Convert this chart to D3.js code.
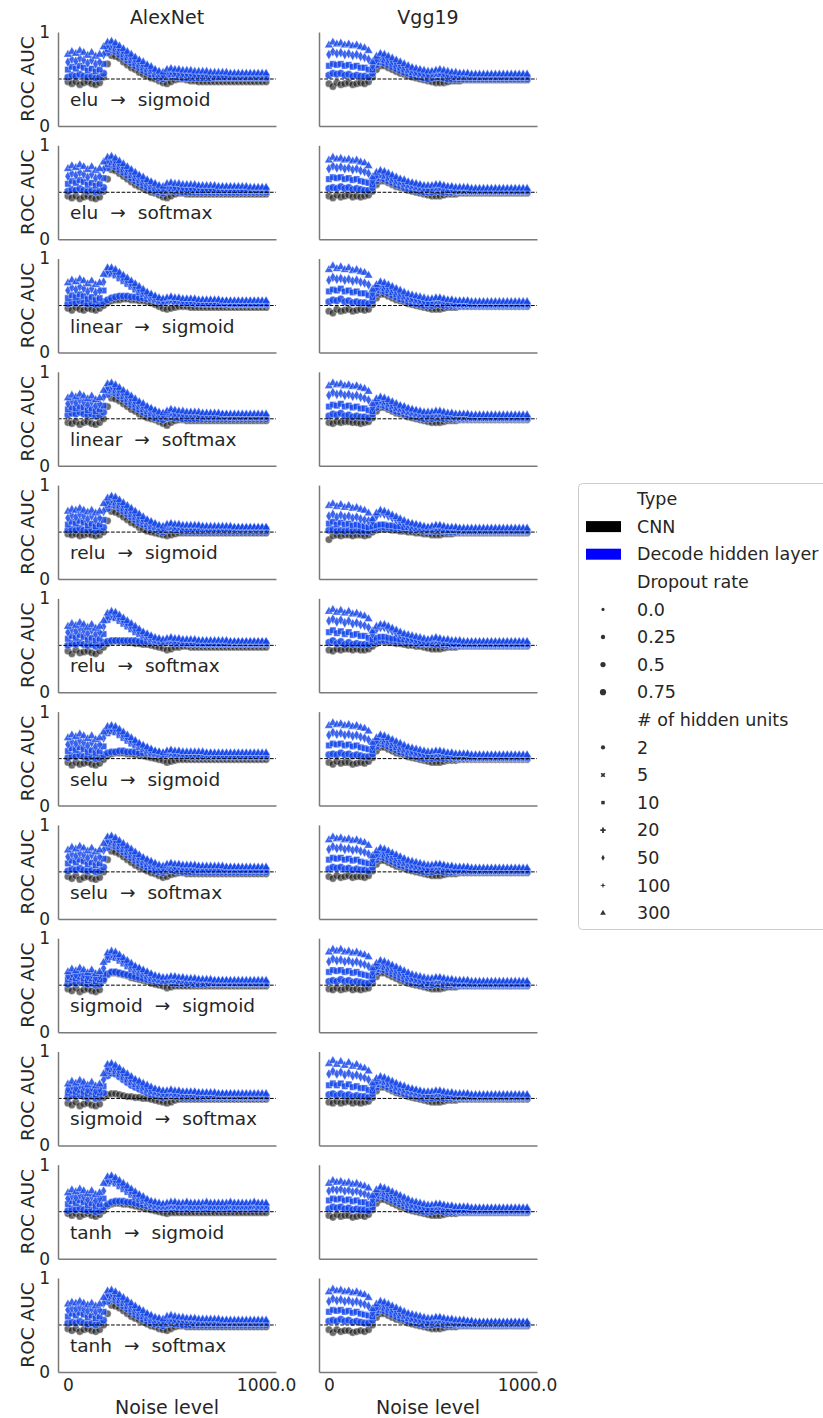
<!DOCTYPE html>
<html>
<head>
<meta charset="utf-8">
<script src="https://cdn.jsdelivr.net/npm/d3@7"></script>
<style>
  html, body { margin: 0; padding: 0; background: #fff; }
  svg { display: block; }
  text { font-family: "DejaVu Sans", sans-serif; fill: #262626; }
</style>
</head>
<body>
<svg id="chart" width="823" height="1418"></svg>
<script>
// ---- categories and ticks ----
const modelNames = ["AlexNet", "Vgg19"];
const hiddenActivations = ["elu", "elu", "linear", "linear", "relu", "relu", "selu", "selu", "sigmoid", "sigmoid", "tanh", "tanh"];
const outputActivations = ["sigmoid", "softmax", "sigmoid", "softmax", "sigmoid", "softmax", "sigmoid", "softmax", "sigmoid", "softmax", "sigmoid", "softmax"];
const noiseLevels = [0,20,40,60,80,100,120,140,160,180,200,220,240,260,280,300,320,340,360,380,400,420,440,460,480,500,520,540,560,580,600,620,640,660,680,700,720,740,760,780,800,820,840,860,880,900,920,940,960,980,1000];
const xTickValues = [0, 1000];
const xTickLabels = ["0", "1000.0"];
const yTickValues = [0, 1];
const yTickLabels = ["0", "1"];
const typeLabels = ["CNN", "Decode hidden layer"];
const dropoutLabels = ["0.0", "0.25", "0.5", "0.75"];
const hiddenUnitLabels = ["2", "5", "10", "20", "50", "100", "300"];

// ---- ROC AUC (in percent) per noise level ----
// cnn: CNN readout; u2/u10/u50/u300: decoder with that many hidden units

// AlexNet
const alex_elu_sig_cnn  = [47,45,47,44,46,47,45,44,46, 52,66,75,74,72,68,65,62,60,57,55,53,51,50,48,46, 45,47,49,50,50,49,48,48, 47,47,47,47,47, 47,47,47,47,47, 47,47,47,47,47, 47,47,47];
const alex_elu_sig_u2   = [52,54,53,55,53,52,53,51,52, 56,78,81,79,76,73,70,67,64,62,59,57,55,53,51,50, 52,53,52,52, 51,51,51,51,51, 51,51,51,51,51, 51,51,51,51,51, 51,51,51,51,51, 51,51];
const alex_elu_sig_u10  = [60,63,61,64,62,59,61,58,60, 66,82,84,82,79,76,73,70,67,65,62,60,58,55,53,52, 54,55,55,54,54,54, 53,53,53,53,53,53, 52,52,52,52,52, 52,52,52,52,52, 52,52,52,52];
const alex_elu_sig_u50  = [68,71,69,72,70,67,70,66,68, 76,86,87,85,82,79,76,73,70,68,65,63,60,58,56,54, 57,58,57,57, 56,56,56, 55,55,55,55,55, 54,54,54,54,54, 54,54,54,54,54, 54,54,54,54];
const alex_elu_sig_u300 = [76,79,77,80,78,75,78,74,76, 84,89,90,88,85,82,79,76,73,70,68,65,63,60,58,57, 60,61,60,60, 59,59,59, 58,58,58,58, 57,57,57,57,57, 56,56,56,56,56, 56,56,56,56,56];

const alex_elu_soft_cnn  = [46,44,46,43,45,46,44,43,45, 51,64,74,73,70,67,64,61,58,56,54,52,50,49,47,45, 44,46,48,49,49, 48,48,48,48,48, 48,48,48,48,48, 48,48,48,48,48, 48,48,48,48,48, 48];
const alex_elu_soft_u2   = [51,53,52,54,52,51,52,50,51, 55,76,79,77,74,71,68,65,62,60,57,55,53,51,50,49, 51,52,51,51, 50,50,50,50,50, 50,50,50,50,50, 50,50,50,50,50, 50,50,50,50,50, 50,50];
const alex_elu_soft_u10  = [59,62,60,63,61,58,60,57,59, 65,80,82,80,77,74,71,68,65,63,60,58,56,54,52,51, 53,54,54,53,53,53,53, 52,52,52,52,52, 52,52,52,52,52, 52,52,52,52,52, 52,52,52,52];
const alex_elu_soft_u50  = [67,70,68,71,69,66,69,65,67, 74,84,85,83,80,77,74,71,68,66,63,61,59,57,55,54, 56,57,56,56, 55,55,55,55,55, 54,54,54,54,54, 54,54,54,54,54, 53,53,53,53,53, 53,53];
const alex_elu_soft_u300 = [75,78,76,79,77,74,77,73,75, 82,87,88,86,83,80,77,74,71,68,66,63,61,59,57,56, 59,60,59,59, 58,58,58,58, 57,57,57,57,57, 56,56,56,56,56, 56,56,56, 55,55,55,55,55];

const alex_lin_sig_cnn  = [47,45,48,46,45,47,46,45,47, 50,53,55,56,56,57,57,56,56,55,55,54,53,51,49,47, 46,47,48,49,49,49, 48,48,48,48,48, 48,48,48,48,48, 48,48,48,48,48, 48,48,48,48,48];
const alex_lin_sig_u2   = [52,54,53,55,53,52,53,51,52, 54,56,58,59,60,60,60,59,59,58,58,57,57,56,56,55, 55,55,54,54, 53,53,53, 52,52,52,52,52, 52,52,52, 51,51,51,51,51, 51,51,51,51,51, 51];
const alex_lin_sig_u10  = [58,61,59,62,60,57,59,56,58, 66,83,84,82,79,76,73,70,67,64,62,60,58,56,54,53, 54,55,54,54, 53,53,53,53,53, 52,52,52,52,52, 52,52,52,52,52, 52,52,52,52,52, 52,52];
const alex_lin_sig_u50  = [66,69,67,70,68,65,68,64,66, 75,87,87,85,82,79,76,73,70,67,64,62,60,58,56,55, 56,57,56,56, 55,55,55,55, 54,54,54,54,54, 54,54,54, 53,53,53,53,53, 53,53,53,53,53];
const alex_lin_sig_u300 = [74,77,75,78,76,73,76,72,74, 83,90,90,88,85,82,79,76,73,70,67,64,62,60,58,57, 58,59,58,58, 57,57,57,57, 56,56,56,56,56,56, 55,55,55,55,55, 55,55,55,55,55, 55,55];

const alex_lin_soft_cnn  = [46,45,47,44,46,47,45,44,46, 50,63,72,71,69,66,63,60,58,55,53,51,50,49,47,45, 43,46,48,49,49, 48,48,48,48,48, 48,48,48,48,48, 48,48,48,48,48, 48,48,48,48,48, 48];
const alex_lin_soft_u2   = [54,56,55,57,55,54,55,53,54, 57,76,79,77,74,71,68,65,62,60,57,55,53,51,50,49, 51,52,51,51, 50,50,50,50,50, 50,50,50,50,50, 50,50,50,50,50, 50,50,50,50,50, 50,50];
const alex_lin_soft_u10  = [60,62,61,63,62,59,61,58,60, 64,80,82,80,77,74,71,68,65,63,60,58,56,54,53,52, 54,55,54,54, 53,53,53,53,53, 52,52,52,52,52, 52,52,52,52,52, 52,52,52,52,52, 52,52];
const alex_lin_soft_u50  = [66,69,67,70,68,65,68,64,66, 73,84,85,83,80,77,74,71,68,66,63,61,59,57,55,54, 56,57,56,56, 55,55,55,55, 54,54,54,54,54, 54,54,54, 53,53,53,53,53, 53,53,53,53,53];
const alex_lin_soft_u300 = [72,75,73,76,74,71,74,70,72, 80,87,88,86,83,80,77,74,71,68,66,63,61,59,57,56, 58,60,59,58,58, 57,57,57,57, 56,56,56,56,56, 55,55,55,55,55, 55,55,55,55,55, 55,55];

const alex_relu_sig_cnn  = [48,47,48,46,47,48,47,46,47, 50,62,72,71,69,66,63,60,58,55,53,51,50,49,48,47, 46,47,48, 49,49,49,49,49, 49,49,49,49,49, 49,49,49,49,49, 49,49,49,49,49, 49,49,49];
const alex_relu_sig_u2   = [52,53,52,54,52,52,53,51,52, 55,75,79,78,75,72,69,66,63,60,58,56,54,53,51,50, 52,53,52,52, 51,51,51,51,51, 51,51,51,51,51, 51,51,51,51,51, 51,51,51,51,51, 51,51];
const alex_relu_sig_u10  = [58,61,59,62,60,57,59,56,58, 63,79,82,81,78,75,72,69,66,63,61,58,56,55,53,52, 54,55,54,54, 53,53,53,53,53, 53,53,53,53,53, 53,53,53,53,53, 53,53,53,53,53, 53,53];
const alex_relu_sig_u50  = [65,68,66,69,67,64,67,63,65, 72,83,85,84,81,78,75,72,69,66,63,61,59,57,55,54, 56,57,56,56, 55,55,55,55,55,55, 54,54,54,54,54, 54,54,54,54,54, 54,54,54,54,54, 54];
const alex_relu_sig_u300 = [72,74,73,75,73,71,73,70,72, 80,86,88,87,84,81,78,75,72,69,66,63,61,59,57,56, 58,59,58,58, 57,57,57,57,57, 56,56,56,56,56, 56,56,56, 55,55,55,55,55, 55,55,55,55];

const alex_relu_soft_cnn  = [44,41,45,42,43,44,42,41,44, 48,52,54,55,54,54,53,53,52,52,51,51,50,49,48,47, 45,46,48,48,49,49, 48,48,48,48,48, 48,48,48,48,48, 48,48,48,48,48, 48,48,48,48,48];
const alex_relu_soft_u2   = [50,52,51,53,51,50,51,49,50, 53,54,55,55,55,55,55,55,55,54,54,54,54,53,53,53, 53,53, 52,52,52,52, 51,51,51,51,51, 51,51,51,51,51, 51,51,51,51,51, 51,51,51,51,51];
const alex_relu_soft_u10  = [57,60,58,61,59,56,58,55,57, 62,77,80,79,76,73,70,67,64,62,60,58,56,55,54,53, 54,54,53,53,53, 52,52,52,52,52, 52,52,52,52,52, 52,52,52,52,52, 52,52,52,52,52, 52];
const alex_relu_soft_u50  = [64,67,65,68,66,63,66,62,64, 70,81,83,82,79,76,73,70,67,64,62,60,58,56,55,54, 55,56,55,55, 54,54,54,54,54, 53,53,53,53,53, 53,53,53,53,53, 53,53,53,53,53, 53,53];
const alex_relu_soft_u300 = [70,73,71,74,72,69,72,68,70, 76,84,86,85,82,79,76,73,70,67,64,62,60,58,57,56, 57,58,57,57, 56,56,56,56, 55,55,55,55,55, 55,55,55, 54,54,54,54,54, 54,54,54,54,54];

const alex_selu_sig_cnn  = [46,43,46,44,45,46,44,43,45, 49,53,55,56,56,56,55,55,54,54,53,52,51,50,49,48, 46,47,48, 49,49,49,49,49, 49,49,49,49,49, 49,49,49,49,49, 49,49,49,49,49, 49,49,49];
const alex_selu_sig_u2   = [51,53,52,54,52,51,52,50,51, 54,56,57,57,58,58,57,57,57,56,56,56,55,55,54,54, 54,54, 53,53,53,53, 52,52,52,52,52, 52,52,52,52,52, 52,52,52,52,52, 52,52,52,52,52];
const alex_selu_sig_u10  = [58,61,59,62,60,57,59,56,58, 63,77,79,78,75,72,69,66,64,62,60,58,56,55,54,53, 54,55,54,54,54, 53,53,53,53,53, 53,53,53,53,53, 53,53,53,53,53, 53,53,53,53,53, 53];
const alex_selu_sig_u50  = [65,68,66,69,67,64,67,63,65, 72,81,82,81,78,75,72,69,67,64,62,60,58,57,56,55, 56,57,56,56, 55,55,55,55,55, 55,55,55, 54,54,54,54,54, 54,54,54,54,54, 54,54,54,54];
const alex_selu_sig_u300 = [72,75,73,76,74,71,74,70,72, 78,84,85,84,81,78,75,72,69,66,64,62,60,58,57,56, 58,59,58,58, 57,57,57,57,57,57, 56,56,56,56,56, 56,56,56,56,56, 56,56,56,56,56, 56];

const alex_selu_soft_cnn  = [45,43,46,42,44,45,43,42,44, 50,63,72,71,69,66,63,60,57,55,53,51,49,48,46,44, 45,47,48,49,49, 48,48,48,48,48, 48,48,48,48,48, 48,48,48,48,48, 48,48,48,48,48, 48];
const alex_selu_soft_u2   = [51,53,52,54,52,51,52,50,51, 55,76,79,77,74,71,68,65,62,59,57,55,53,51,50,49, 51,52,51,51, 50,50,50,50,50, 50,50,50,50,50, 50,50,50,50,50, 50,50,50,50,50, 50,50];
const alex_selu_soft_u10  = [59,62,60,63,61,58,60,57,59, 64,80,82,80,77,74,71,68,65,62,60,58,56,54,52,51, 53,54,54,53,53,53,53, 52,52,52,52,52, 52,52,52,52,52, 52,52,52,52,52, 52,52,52,52];
const alex_selu_soft_u50  = [66,69,67,70,68,65,68,64,66, 73,84,85,83,80,77,74,71,68,65,63,61,59,57,55,54, 56,57,56,56, 55,55,55,55,55, 54,54,54,54,54, 54,54,54,54,54, 53,53,53,53,53, 53,53];
const alex_selu_soft_u300 = [73,76,74,77,75,72,75,71,73, 80,87,88,86,83,80,77,74,71,68,65,63,61,59,57,56, 58,59,58,58, 57,57,57,57, 56,56,56,56,56, 56,56, 55,55,55,55,55, 55,55,55,55,55, 55];

const alex_sigm_sig_cnn  = [46,44,47,43,45,46,44,43,45, 55,61,63,63,62,61,60,58,57,56,55,54,52,51,50,49, 47,48, 49,49,49,49,49, 49,49,49,49,49, 49,49,49,49,49, 49,49,49,49,49, 49,49,49,49];
const alex_sigm_sig_u2   = [51,53,52,54,52,51,52,50,51, 56,62,64,64,63,62,61,60,59,58,57,56,55,54,53,53, 53,53, 52,52,52,52,52, 51,51,51,51,51, 51,51,51,51,51, 51,51,51,51,51, 51,51,51,51];
const alex_sigm_sig_u10  = [56,58,57,59,57,55,57,54,56, 62,77,80,79,76,73,70,67,65,63,61,59,57,56,55,54, 54,55,55,54,54, 53,53,53,53,53,53, 52,52,52,52,52, 52,52,52,52,52, 52,52,52,52,52];
const alex_sigm_sig_u50  = [60,62,61,63,61,59,61,58,60, 68,81,83,82,79,76,73,70,68,66,64,62,60,58,57,56, 56,57,57,56,56, 55,55,55,55, 54,54,54,54,54, 54,54, 53,53,53,53,53, 53,53,53,53,53];
const alex_sigm_sig_u300 = [64,67,65,68,66,63,66,62,64, 74,84,86,85,82,79,76,73,70,68,66,64,62,60,59,58, 58,59,59,58,58, 57,57,57, 56,56,56,56, 55,55,55,55,55, 55,55,55,55,55, 55,55,55,55];

const alex_sigm_soft_cnn  = [45,43,46,42,44,45,43,42,44, 51,54,55,55,54,53,52,52,51,51,50,50,49,48,47,46, 45,46,48, 49,49,49,49,49, 49,49,49,49,49, 49,49,49,49,49, 49,49,49,49,49, 49,49,49];
const alex_sigm_soft_u2   = [51,53,52,54,52,51,52,50,51, 56,74,77,76,73,70,67,64,62,60,58,56,54,53,52,51, 52,53,52,52, 51,51,51,51,51, 51,51,51,51,51, 51,51,51,51,51, 51,51,51,51,51, 51,51];
const alex_sigm_soft_u10  = [56,58,57,59,57,55,57,54,56, 63,79,81,79,76,73,70,67,65,63,61,59,57,56,55,54, 54,55,54,54, 53,53,53,53,53,53, 52,52,52,52,52, 52,52,52,52,52, 52,52,52,52,52, 52];
const alex_sigm_soft_u50  = [60,63,61,64,62,59,61,58,60, 70,83,84,82,79,76,73,70,68,66,63,61,59,58,57,56, 56,57,56,56, 55,55,55,55,55, 54,54,54,54,54, 54,54,54,54, 53,53,53,53,53, 53,53,53];
const alex_sigm_soft_u300 = [65,68,66,69,67,64,67,63,65, 76,86,87,85,82,79,76,73,70,68,66,64,62,60,59,58, 58,59,58,58, 57,57,57,57, 56,56,56,56,56, 55,55,55,55,55, 55,55,55,55,55, 55,55,55];

const alex_tanh_sig_cnn  = [48,46,48,45,47,48,46,45,47, 51,56,58,59,59,58,58,57,56,55,54,53,52,51,50,49, 48, 49,49,49,49,49, 49,49,49,49,49, 49,49,49,49,49, 49,49,49,49,49, 49,49,49,49,49];
const alex_tanh_sig_u2   = [51,53,52,54,52,51,52,50,51, 55,58,60,61,61,61,60,60,59,58,57,56,55,54,54,53, 53,54,54, 53,53,53,54,53, 53,53,53,53,54, 53,53,53,53,53, 54,53,53,53,53, 53,53,53];
const alex_tanh_sig_u10  = [58,61,59,62,60,57,59,56,58, 64,80,82,80,77,74,71,68,65,63,61,59,57,56,55,55, 55,56,56, 55,55,56,55,55, 55,55,56,55,55, 55,55,55,56,55, 55,55,55,55,56, 55,55,55];
const alex_tanh_sig_u50  = [64,67,65,68,66,63,66,62,64, 72,84,85,83,80,77,74,71,68,66,63,61,59,58,57,57, 57,58,58, 57,57,58,57,57, 57,57,58,57,57, 57,57,57,58,57, 57,57,57,57,58, 57,57,57];
const alex_tanh_sig_u300 = [70,73,71,74,72,69,72,68,70, 80,87,88,86,83,80,77,74,71,68,66,63,61,60,59,58, 59,60,60, 59,59,60,59,59, 59,59,60,59,59, 59,59,59,60,59, 59,59,59,59,60, 59,59,59];

const alex_tanh_soft_cnn  = [46,44,46,43,45,46,44,43,45, 50,62,71,70,68,65,62,59,57,55,53,51,49,48,46,45, 44,46,48,49,49, 48,48,48,48,48, 48,48,48,48,48, 48,48,48,48,48, 48,48,48,48,48, 48];
const alex_tanh_soft_u2   = [52,53,52,54,52,51,52,50,52, 55,75,78,76,73,70,67,64,61,59,56,54,52,51,50,49, 51,52,51,51, 50,50,50,50,50, 50,50,50,50,50, 50,50,50,50,50, 50,50,50,50,50, 50,50];
const alex_tanh_soft_u10  = [59,62,60,63,61,58,60,57,59, 64,79,81,79,76,73,70,67,64,62,59,57,55,53,52,51, 53,54,54,53,53,53,53, 52,52,52,52,52, 52,52,52,52,52, 52,52,52,52,52, 52,52,52,52];
const alex_tanh_soft_u50  = [66,68,67,69,67,65,67,64,66, 73,83,84,82,79,76,73,70,67,65,62,60,58,56,55,54, 56,57,56,56, 55,55,55,55, 54,54,54,54,54, 54,54,54, 53,53,53,53,53, 53,53,53,53,53];
const alex_tanh_soft_u300 = [72,74,73,75,73,71,73,70,72, 79,86,87,85,82,79,76,73,70,67,65,62,60,58,57,56, 59,60,59,58,58, 57,57,57, 56,56,56,56,56,56, 55,55,55,55,55, 55,55,55,55,55, 55,55];

// Vgg19
const vgg_elu_sig_cnn  = [45,42,46,44,45,46,44,45,46,45,47, 52,60,64,64,62,60,58,56,55,53,52,51,50,49,48, 47,46,46,46,47, 48,48,48, 49,49,49,49,49, 49,49,49,49,49, 49,49,49,49,49, 49,49];
const vgg_elu_sig_u2   = [54,56,55,56,54,55,53,54,53,53,52, 56,65,68,67,65,63,61,59,57,56,54,53,52,51,50, 51,52,52,51, 50,50,50,50,50, 50,50,50,50,50, 50,50,50,50,50, 50,50,50,50,50, 50];
const vgg_elu_sig_u10  = [64,66,65,66,64,65,63,64,62,62,60, 60,68,71,70,68,66,64,62,60,59,57,56,55,54,53, 54,55,55,54, 53,53, 52,52,52,52,52, 52,52,52,52,52, 52,52,52,52,52, 52,52,52,52];
const vgg_elu_sig_u50  = [76,79,77,78,76,77,75,76,74,73,71, 64,71,74,73,71,69,67,65,63,61,60,58,57,56,55, 56,57,57,56, 55,55, 54,54,54,54, 53,53,53,53,53, 53,53,53,53,53, 53,53,53,53,53];
const vgg_elu_sig_u300 = [86,89,87,88,86,87,85,86,84,83,80, 68,74,77,76,74,72,70,68,66,64,62,61,60,59,58, 58,59,60,59,58,57,57, 56,56,56, 55,55,55,55,55, 55,55,55,55,55, 55,55,55,55,55];

const vgg_elu_soft_cnn  = [46,44,47,45,46,47,45,46,45,46,47, 51,58,62,62,60,58,56,55,54,52,51,50,49,48,47, 46,46,46,47, 48,48,48, 49,49,49,49,49, 49,49,49,49,49, 49,49,49,49,49, 49,49,49];
const vgg_elu_soft_u2   = [54,55,54,56,54,55,53,54,53,52,52, 55,62,65,64,62,60,58,57,55,54,53,52,51,50,50, 50,51,51, 50,50,50,50,50, 50,50,50,50,50, 50,50,50,50,50, 50,50,50,50,50, 50,50];
const vgg_elu_soft_u10  = [64,66,65,66,64,65,63,64,62,61,60, 58,65,68,67,65,63,61,60,58,57,56,55,54,53,52, 53,54,54,53, 52,52, 51,51,51,51,51, 51,51,51,51,51, 51,51,51,51,51, 51,51,51,51];
const vgg_elu_soft_u50  = [75,78,76,77,75,76,74,75,73,72,70, 62,68,70,69,67,65,63,62,60,59,58,57,56,55,54, 55,56,56,55, 54,54, 53,53,53,53, 52,52,52,52,52, 52,52,52,52,52, 52,52,52,52,52];
const vgg_elu_soft_u300 = [84,87,85,86,84,85,83,84,82,81,78, 66,71,73,72,70,68,66,64,63,61,60,59,58,57,57, 57,58,58,57, 56,56, 55,55,55,55, 54,54,54,54,54, 54,54,54,54,54, 54,54,54,54,54];

const vgg_lin_sig_cnn  = [44,42,46,44,45,46,44,45,46,45,46, 51,58,62,62,60,58,56,55,54,52,51,50,49,48,47, 46,46,46,47, 48,48,48, 49,49,49,49,49, 49,49,49,49,49, 49,49,49,49,49, 49,49,49];
const vgg_lin_sig_u2   = [54,56,55,57,54,55,53,54,53,53,52, 55,63,66,65,63,61,59,57,56,54,53,52,51,50,50, 50,51,51, 50,50,50,50,50, 50,50,50,50,50, 50,50,50,50,50, 50,50,50,50,50, 50,50];
const vgg_lin_sig_u10  = [65,67,66,68,65,66,64,65,63,63,61, 59,66,69,68,66,64,62,60,59,57,56,55,54,53,52, 53,54,54,53, 52,52, 51,51,51,51,51, 51,51,51,51,51, 51,51,51,51,51, 51,51,51,51];
const vgg_lin_sig_u50  = [77,80,78,79,77,78,76,77,75,74,72, 63,69,72,71,69,67,65,63,61,60,58,57,56,55,54, 55,56,56,55, 54,54, 53,53,53,53, 52,52,52,52,52, 52,52,52,52,52, 52,52,52,52,52];
const vgg_lin_sig_u300 = [88,92,89,91,88,90,87,88,86,85,82, 67,72,75,74,72,70,68,66,64,62,61,60,59,58,57, 57,58,58,57, 56,56, 55,55,55,55, 54,54,54,54,54, 54,54,54,54,54, 54,54,54,54,54];

const vgg_lin_soft_cnn  = [46,45,47,46,47,47,46,46,45,46,47, 51,58,62,62,60,58,56,55,54,52,51,50,49,48,47, 46,46,46,47, 48,48,48, 49,49,49,49,49, 49,49,49,49,49, 49,49,49,49,49, 49,49,49];
const vgg_lin_soft_u2   = [53,55,54,56,53,54,52,53,52,52,51, 55,62,65,64,62,60,58,57,55,54,53,52,51,50,50, 50,51,51, 50,50,50,50,50, 50,50,50,50,50, 50,50,50,50,50, 50,50,50,50,50, 50,50];
const vgg_lin_soft_u10  = [63,65,64,66,63,64,62,63,61,61,59, 58,65,68,67,65,63,61,60,58,57,56,55,54,53,52, 53,54,54,53, 52,52, 51,51,51,51,51, 51,51,51,51,51, 51,51,51,51,51, 51,51,51,51];
const vgg_lin_soft_u50  = [75,78,76,77,75,76,74,75,73,72,70, 62,68,70,69,67,65,63,62,60,59,58,57,56,55,54, 55,56,56,55, 54,54, 53,53,53,53, 52,52,52,52,52, 52,52,52,52,52, 52,52,52,52,52];
const vgg_lin_soft_u300 = [85,88,86,87,85,86,84,85,83,82,79, 66,71,73,72,70,68,66,64,63,61,60,59,58,57,57, 57,58,58,57, 56,56, 55,55,55,55, 54,54,54,54,54, 54,54,54,54,54, 54,54,54,54,54];

const vgg_relu_sig_cnn  = [42,46,47,46,47,47,46,47,47,46,47, 50,52,53,53,53,52,52,51,51,50,50,49,49,48,48, 47,47,47, 48,48,48, 49,49,49,49,49, 49,49,49,49,49, 49,49,49,49,49, 49,49,49,49];
const vgg_relu_sig_u2   = [52,53,51,52,51,52,51,52,51,51,51, 53,54,55,55,55,54,54,54,53,53,53,52,52,51,51, 51,51,51,51, 50,50,50,50,50, 50,50,50,50,50, 50,50,50,50,50, 50,50,50,50,50, 50];
const vgg_relu_sig_u10  = [59,61,58,60,58,59,57,58,57,56,55, 56,57,58,58,57,57,56,56,55,55,54,54,53,53,52, 53,53,53, 52,52,52,52, 51,51,51,51,51, 51,51,51,51,51, 51,51,51,51,51, 51,51,51];
const vgg_relu_sig_u50  = [67,69,66,68,66,67,65,66,64,63,62, 61,67,70,69,67,65,63,61,59,58,57,56,55,54,54, 54,55,55,54, 53,53,53,53, 52,52,52,52,52, 52,52,52,52,52, 52,52,52,52,52, 52,52];
const vgg_relu_sig_u300 = [78,80,77,79,76,78,75,76,74,73,70, 64,70,73,72,70,68,66,64,62,60,59,58,57,56,55, 56,57,57,56, 55,55,55, 54,54,54,54,54, 54,54,54,54,54, 54,54,54,54,54, 54,54,54];

const vgg_relu_soft_cnn  = [45,44,46,45,46,46,45,46,45,45,46, 49,52,54,54,53,53,52,52,51,50,50,49,49,48,47, 46,46,46,47, 48,48,48, 49,49,49,49,49, 49,49,49,49,49, 49,49,49,49,49, 49,49,49];
const vgg_relu_soft_u2   = [53,55,52,54,51,53,51,52,51,51,51, 53,54,55,55,55,55,54,54,54,53,53,52,52,51,51, 51,51,51, 50,50,50,50,50, 50,50,50,50,50, 50,50,50,50,50, 50,50,50,50,50, 50,50];
const vgg_relu_soft_u10  = [64,66,63,65,62,64,61,62,60,60,58, 56,58,59,59,58,57,57,56,56,55,55,54,53,52,52, 53,54,53, 52,52, 51,51,51,51,51, 51,51,51,51,51, 51,51,51,51,51, 51,51,51,51,51];
const vgg_relu_soft_u50  = [76,78,75,77,74,76,73,74,72,71,69, 62,67,69,69,67,65,63,61,60,58,57,56,55,54,54, 55,56,55, 54,54, 53,53,53, 52,52,52,52,52, 52,52,52,52,52, 52,52,52,52,52, 52,52];
const vgg_relu_soft_u300 = [86,88,85,87,84,86,83,84,82,81,78, 65,70,72,72,70,68,66,64,62,61,60,59,58,57,56, 57,58,57,56,56, 55,55,55, 54,54,54,54,54, 54,54,54,54,54, 54,54,54,54,54, 54,54];

const vgg_selu_sig_cnn  = [46,44,47,45,46,46,44,45,46,45,47, 51,58,62,62,60,58,56,55,54,52,51,50,49,48,47, 46,46,46,47, 48,48,48, 49,49,49,49,49, 49,49,49,49,49, 49,49,49,49,49, 49,49,49];
const vgg_selu_sig_u2   = [54,55,54,56,54,55,53,54,53,52,52, 55,63,66,65,63,61,59,57,56,54,53,52,51,50,50, 50,51,51, 50,50,50,50,50, 50,50,50,50,50, 50,50,50,50,50, 50,50,50,50,50, 50,50];
const vgg_selu_sig_u10  = [64,66,65,66,64,65,63,64,62,61,60, 59,66,69,68,66,64,62,60,59,57,56,55,54,53,52, 53,54,54,53, 52,52, 51,51,51,51,51, 51,51,51,51,51, 51,51,51,51,51, 51,51,51,51];
const vgg_selu_sig_u50  = [75,78,76,77,75,76,74,75,73,72,70, 63,69,72,71,69,67,65,63,61,60,58,57,56,55,54, 55,56,56,55, 54,54, 53,53,53,53, 52,52,52,52,52, 52,52,52,52,52, 52,52,52,52,52];
const vgg_selu_sig_u300 = [85,88,86,87,85,86,84,85,83,82,79, 67,72,75,74,72,70,68,66,64,62,61,60,59,58,57, 57,58,58,57, 56,56, 55,55,55,55, 54,54,54,54,54, 54,54,54,54,54, 54,54,54,54,54];

const vgg_selu_soft_cnn  = [45,43,46,44,45,46,44,45,45,44,46, 51,58,62,62,60,58,56,55,54,52,51,50,49,48,47, 46,46,46,47, 48,48,48, 49,49,49,49,49, 49,49,49,49,49, 49,49,49,49,49, 49,49,49];
const vgg_selu_soft_u2   = [53,55,54,55,53,54,52,53,52,52,51, 55,63,66,65,63,61,59,57,56,54,53,52,51,50,50, 50,51,51, 50,50,50,50,50, 50,50,50,50,50, 50,50,50,50,50, 50,50,50,50,50, 50,50];
const vgg_selu_soft_u10  = [63,65,64,65,63,64,62,63,61,60,59, 59,66,69,68,66,64,62,60,59,57,56,55,54,53,52, 53,54,54,53, 52,52, 51,51,51,51,51, 51,51,51,51,51, 51,51,51,51,51, 51,51,51,51];
const vgg_selu_soft_u50  = [74,77,75,76,74,75,73,74,72,71,69, 63,69,72,71,69,67,65,63,61,60,58,57,56,55,54, 55,56,56,55, 54,54, 53,53,53,53, 52,52,52,52,52, 52,52,52,52,52, 52,52,52,52,52];
const vgg_selu_soft_u300 = [84,87,85,86,84,85,83,84,82,81,78, 67,72,75,74,72,70,68,66,64,62,61,60,59,58,57, 57,58,58,57, 56,56, 55,55,55,55, 54,54,54,54,54, 54,54,54,54,54, 54,54,54,54,54];

const vgg_sigm_sig_cnn  = [46,45,47,45,46,47,45,46,45,46,47, 52,59,63,63,61,59,57,55,54,52,51,50,49,48,47, 46,46,46,47, 48,48,48, 49,49,49,49,49, 49,49,49,49,49, 49,49,49,49,49, 49,49,49];
const vgg_sigm_sig_u2   = [54,55,54,56,54,55,53,54,53,52,52, 56,64,67,66,64,62,60,58,56,54,53,52,51,50,50, 50,51,51, 50,50,50,50,50, 50,50,50,50,50, 50,50,50,50,50, 50,50,50,50,50, 50,50];
const vgg_sigm_sig_u10  = [64,66,65,66,64,65,63,64,62,61,60, 60,67,70,69,67,65,63,61,59,57,56,55,54,53,52, 53,54,54,53, 52,52, 51,51,51,51,51, 51,51,51,51,51, 51,51,51,51,51, 51,51,51,51];
const vgg_sigm_sig_u50  = [75,78,76,77,75,76,74,75,73,72,70, 64,70,73,72,70,68,66,64,62,60,58,57,56,55,54, 55,56,56,55, 54,54, 53,53,53,53, 52,52,52,52,52, 52,52,52,52,52, 52,52,52,52,52];
const vgg_sigm_sig_u300 = [85,88,86,88,85,86,84,85,83,82,80, 68,73,76,75,73,71,69,67,65,63,61,60,59,58,57, 57,58,58,57, 56,56, 55,55,55,55, 54,54,54,54,54, 54,54,54,54,54, 54,54,54,54,54];

const vgg_sigm_soft_cnn  = [46,45,47,45,46,47,45,46,45,46,47, 51,58,62,62,60,58,56,55,54,52,51,50,49,48,47, 46,46,46,47, 48,48,48, 49,49,49,49,49, 49,49,49,49,49, 49,49,49,49,49, 49,49,49];
const vgg_sigm_soft_u2   = [54,55,53,55,53,54,52,53,52,52,51, 55,62,65,64,62,60,58,57,55,54,53,52,51,50,50, 50,51,51, 50,50,50,50,50, 50,50,50,50,50, 50,50,50,50,50, 50,50,50,50,50, 50,50];
const vgg_sigm_soft_u10  = [64,66,64,66,63,65,62,63,61,61,59, 58,65,68,67,65,63,61,60,58,57,56,55,54,53,52, 53,54,54,53, 52,52, 51,51,51,51,51, 51,51,51,51,51, 51,51,51,51,51, 51,51,51,51];
const vgg_sigm_soft_u50  = [76,79,76,78,75,77,74,75,73,72,70, 62,68,70,69,67,65,63,62,60,59,58,57,56,55,54, 55,56,56,55, 54,54, 53,53,53,53, 52,52,52,52,52, 52,52,52,52,52, 52,52,52,52,52];
const vgg_sigm_soft_u300 = [87,90,86,89,85,88,84,86,83,82,79, 66,71,73,72,70,68,66,64,63,61,60,59,58,57,57, 57,58,58,57, 56,56, 55,55,55,55, 54,54,54,54,54, 54,54,54,54,54, 54,54,54,54,54];

const vgg_tanh_sig_cnn  = [46,44,47,45,46,46,44,45,46,45,47, 52,59,63,63,61,59,57,55,54,52,51,50,49,48,47, 46,46,46,47, 48,48,48, 49,49,49,49,49, 49,49,49,49,49, 49,49,49,49,49, 49,49,49];
const vgg_tanh_sig_u2   = [53,55,54,55,53,54,52,53,52,52,51, 55,64,67,66,64,62,60,58,56,54,53,52,51,50,50, 50,51,51, 50,50,50,50,50, 50,50,50,50,50, 50,50,50,50,50, 50,50,50,50,50, 50,50];
const vgg_tanh_sig_u10  = [62,64,63,64,62,63,61,62,60,60,58, 59,67,70,69,67,65,63,61,59,57,56,55,54,53,52, 53,54,54,53, 52,52, 51,51,51,51,51, 51,51,51,51,51, 51,51,51,51,51, 51,51,51,51];
const vgg_tanh_sig_u50  = [72,74,73,74,72,73,71,72,70,69,67, 63,70,73,72,70,68,66,64,62,60,58,57,56,55,54, 55,56,56,55, 54,54, 53,53,53,53, 52,52,52,52,52, 52,52,52,52,52, 52,52,52,52,52];
const vgg_tanh_sig_u300 = [80,83,81,82,80,81,79,80,78,77,75, 67,73,76,75,73,71,69,67,65,63,61,60,59,58,57, 57,58,58,57, 56,56, 55,55,55,55, 54,54,54,54,54, 54,54,54,54,54, 54,54,54,54,54];

const vgg_tanh_soft_cnn  = [45,42,45,43,44,44,42,43,44,43,45, 50,58,62,62,60,58,56,55,54,52,51,50,49,48,47, 46,46,46,47, 48,48,48, 49,49,49,49,49, 49,49,49,49,49, 49,49,49,49,49, 49,49,49];
const vgg_tanh_soft_u2   = [54,55,54,56,54,55,53,54,53,52,52, 55,63,66,65,63,61,59,57,56,54,53,52,51,50,50, 50,51,51, 50,50,50,50,50, 50,50,50,50,50, 50,50,50,50,50, 50,50,50,50,50, 50,50];
const vgg_tanh_soft_u10  = [64,66,65,66,64,65,63,64,62,61,60, 59,66,69,68,66,64,62,60,59,57,56,55,54,53,52, 53,54,54,53, 52,52, 51,51,51,51,51, 51,51,51,51,51, 51,51,51,51,51, 51,51,51,51];
const vgg_tanh_soft_u50  = [75,78,76,77,75,76,74,75,73,72,70, 63,69,72,71,69,67,65,63,61,60,58,57,56,55,54, 55,56,56,55, 54,54, 53,53,53,53, 52,52,52,52,52, 52,52,52,52,52, 52,52,52,52,52];
const vgg_tanh_soft_u300 = [85,88,86,87,85,86,84,85,83,82,79, 67,72,75,74,72,70,68,66,64,62,61,60,59,58,57, 57,58,58,57, 56,56, 55,55,55, 54,54, 53,53,53,53,53, 53,53,53,53,53, 53,53,53,53];

// series per panel, in draw order: CNN, then decoders with 2, 10, 50, 300 hidden units
const panelSeries = {
  AlexNet: [
    [alex_elu_sig_cnn, alex_elu_sig_u2, alex_elu_sig_u10, alex_elu_sig_u50, alex_elu_sig_u300],
    [alex_elu_soft_cnn, alex_elu_soft_u2, alex_elu_soft_u10, alex_elu_soft_u50, alex_elu_soft_u300],
    [alex_lin_sig_cnn, alex_lin_sig_u2, alex_lin_sig_u10, alex_lin_sig_u50, alex_lin_sig_u300],
    [alex_lin_soft_cnn, alex_lin_soft_u2, alex_lin_soft_u10, alex_lin_soft_u50, alex_lin_soft_u300],
    [alex_relu_sig_cnn, alex_relu_sig_u2, alex_relu_sig_u10, alex_relu_sig_u50, alex_relu_sig_u300],
    [alex_relu_soft_cnn, alex_relu_soft_u2, alex_relu_soft_u10, alex_relu_soft_u50, alex_relu_soft_u300],
    [alex_selu_sig_cnn, alex_selu_sig_u2, alex_selu_sig_u10, alex_selu_sig_u50, alex_selu_sig_u300],
    [alex_selu_soft_cnn, alex_selu_soft_u2, alex_selu_soft_u10, alex_selu_soft_u50, alex_selu_soft_u300],
    [alex_sigm_sig_cnn, alex_sigm_sig_u2, alex_sigm_sig_u10, alex_sigm_sig_u50, alex_sigm_sig_u300],
    [alex_sigm_soft_cnn, alex_sigm_soft_u2, alex_sigm_soft_u10, alex_sigm_soft_u50, alex_sigm_soft_u300],
    [alex_tanh_sig_cnn, alex_tanh_sig_u2, alex_tanh_sig_u10, alex_tanh_sig_u50, alex_tanh_sig_u300],
    [alex_tanh_soft_cnn, alex_tanh_soft_u2, alex_tanh_soft_u10, alex_tanh_soft_u50, alex_tanh_soft_u300]
  ],
  Vgg19: [
    [vgg_elu_sig_cnn, vgg_elu_sig_u2, vgg_elu_sig_u10, vgg_elu_sig_u50, vgg_elu_sig_u300],
    [vgg_elu_soft_cnn, vgg_elu_soft_u2, vgg_elu_soft_u10, vgg_elu_soft_u50, vgg_elu_soft_u300],
    [vgg_lin_sig_cnn, vgg_lin_sig_u2, vgg_lin_sig_u10, vgg_lin_sig_u50, vgg_lin_sig_u300],
    [vgg_lin_soft_cnn, vgg_lin_soft_u2, vgg_lin_soft_u10, vgg_lin_soft_u50, vgg_lin_soft_u300],
    [vgg_relu_sig_cnn, vgg_relu_sig_u2, vgg_relu_sig_u10, vgg_relu_sig_u50, vgg_relu_sig_u300],
    [vgg_relu_soft_cnn, vgg_relu_soft_u2, vgg_relu_soft_u10, vgg_relu_soft_u50, vgg_relu_soft_u300],
    [vgg_selu_sig_cnn, vgg_selu_sig_u2, vgg_selu_sig_u10, vgg_selu_sig_u50, vgg_selu_sig_u300],
    [vgg_selu_soft_cnn, vgg_selu_soft_u2, vgg_selu_soft_u10, vgg_selu_soft_u50, vgg_selu_soft_u300],
    [vgg_sigm_sig_cnn, vgg_sigm_sig_u2, vgg_sigm_sig_u10, vgg_sigm_sig_u50, vgg_sigm_sig_u300],
    [vgg_sigm_soft_cnn, vgg_sigm_soft_u2, vgg_sigm_soft_u10, vgg_sigm_soft_u50, vgg_sigm_soft_u300],
    [vgg_tanh_sig_cnn, vgg_tanh_sig_u2, vgg_tanh_sig_u10, vgg_tanh_sig_u50, vgg_tanh_sig_u300],
    [vgg_tanh_soft_cnn, vgg_tanh_soft_u2, vgg_tanh_soft_u10, vgg_tanh_soft_u50, vgg_tanh_soft_u300]
  ]
};

// ---- layout and styles ----
const svg = d3.select("#chart");
const textColor = "#262626";
const spineColor = "#7a7a7a";
const axisLeftX = [58, 319];
const axisWidth = 218;
const panelTop0 = 32;
const rowStep = 113.27;
const panelHeight = 94;

const x = d3.scaleLinear().domain([-50, 1050]).range([0, axisWidth]);
const y = d3.scaleLinear().domain([0, 1]).range([panelHeight, 0]);

// four-pointed star marker
const symbolStar4 = {
  draw(context, size) {
    const r = Math.sqrt(size) * 0.8, ri = r * 0.32;
    for (let k = 0; k < 8; k++) {
      const a = k * Math.PI / 4 - Math.PI / 2;
      const rr = k % 2 ? ri : r;
      const px = Math.cos(a) * rr, py = Math.sin(a) * rr;
      if (k === 0) context.moveTo(px, py); else context.lineTo(px, py);
    }
    context.closePath();
  }
};

const blueFill = "#0f42e8";
const seriesStyles = [
  { fill: "#111111", opacity: 0.62, symbol: d3.symbolCircle,   size: 42 }, // CNN
  { fill: blueFill,  opacity: 0.82, symbol: d3.symbolCircle,   size: 44 }, // 2 units
  { fill: blueFill,  opacity: 0.82, symbol: d3.symbolSquare,   size: 40 }, // 10 units
  { fill: blueFill,  opacity: 0.82, symbol: d3.symbolDiamond,  size: 30 }, // 50 units
  { fill: blueFill,  opacity: 0.82, symbol: d3.symbolTriangle, size: 32 }  // 300 units
];

// ---- column titles ----
modelNames.forEach((m, c) => {
  svg.append("text")
    .attr("x", axisLeftX[c] + axisWidth / 2)
    .attr("y", 24)
    .attr("text-anchor", "middle")
    .attr("font-size", 19)
    .text(m);
});

// ---- panels ----
modelNames.forEach((model, c) => {
  hiddenActivations.forEach((hAct, r) => {
    const top = panelTop0 + r * rowStep;
    const g = svg.append("g").attr("transform", `translate(${axisLeftX[c]},${top})`);

    // points
    panelSeries[model][r].forEach((vals, s) => {
      const st = seriesStyles[s];
      const pts = noiseLevels.map((n, i) => ({ noise: n, auc: vals[i] })).filter(d => d.auc != null);
      const path = d3.symbol(st.symbol, st.size)();
      g.append("g")
        .selectAll("path")
        .data(pts)
        .join("path")
        .attr("transform", d => `translate(${x(d.noise)},${y(d.auc / 100)})`)
        .attr("d", path)
        .attr("fill", st.fill)
        .attr("fill-opacity", st.opacity)
        .attr("stroke", "#ffffff")
        .attr("stroke-width", 0.5)
        .attr("stroke-opacity", 0.7);
    });

    // chance level
    g.append("line")
      .attr("x1", 0).attr("x2", axisWidth)
      .attr("y1", y(0.5)).attr("y2", y(0.5))
      .attr("stroke", "#000")
      .attr("stroke-width", 1)
      .attr("stroke-dasharray", "3.7,1.6");

    // axes (left and bottom spines only)
    const yAxis = d3.axisLeft(y)
      .tickValues(c === 0 ? yTickValues : [])
      .tickFormat((d, i) => yTickLabels[i])
      .tickSize(0).tickSizeOuter(0).tickPadding(8);
    const ya = g.append("g").attr("color", textColor).call(yAxis);
    ya.select(".domain").attr("stroke", spineColor).attr("stroke-width", 1.5);
    ya.selectAll("text").attr("font-size", 17).attr("font-family", "DejaVu Sans").attr("fill", textColor);

    const xAxis = d3.axisBottom(x)
      .tickValues(r === hiddenActivations.length - 1 ? xTickValues : [])
      .tickFormat((d, i) => xTickLabels[i])
      .tickSize(0).tickSizeOuter(0).tickPadding(7);
    const xa = g.append("g").attr("transform", `translate(0,${panelHeight})`).attr("color", textColor).call(xAxis);
    xa.select(".domain").attr("stroke", spineColor).attr("stroke-width", 1.5);
    xa.selectAll("text").attr("font-size", 17).attr("font-family", "DejaVu Sans").attr("fill", textColor);

    if (c === 0) {
      // activation label
      const lbl = g.append("text")
        .attr("x", 12)
        .attr("y", panelHeight - 20)
        .attr("font-size", 18.5);
      lbl.append("tspan").text(hAct);
      lbl.append("tspan").attr("dx", 12).text("\u2192");
      lbl.append("tspan").attr("dx", 12).text(outputActivations[r]);

      // y label
      svg.append("text")
        .attr("transform", `translate(34,${top + panelHeight / 2}) rotate(-90)`)
        .attr("text-anchor", "middle")
        .attr("font-size", 18.5)
        .text("ROC AUC");
    }
    // x label
    if (r === hiddenActivations.length - 1) {
      svg.append("text")
        .attr("x", axisLeftX[c] + axisWidth / 2)
        .attr("y", 1414)
        .attr("text-anchor", "middle")
        .attr("font-size", 19)
        .text("Noise level");
    }
  });
});

// ---- legend ----
const lg = svg.append("g");
lg.append("rect")
  .attr("x", 578.5).attr("y", 483.5)
  .attr("width", 270).attr("height", 446)
  .attr("rx", 4)
  .attr("fill", "#fff").attr("fill-opacity", 0.85)
  .attr("stroke", "#cccccc").attr("stroke-width", 1);

const legendY0 = 499, legendStep = 27.6, legendTextX = 637, legendMarkX = 603;
const legendRows = [
  { label: "Type" },
  { label: typeLabels[0], patch: "#000000" },
  { label: typeLabels[1], patch: "#0000ff" },
  { label: "Dropout rate" },
  ...dropoutLabels.map((d, i) => ({ label: d, symbol: d3.symbolCircle, size: [8, 15, 22, 30][i] })),
  { label: "# of hidden units" },
  ...hiddenUnitLabels.map((h, i) => ({
    label: h,
    symbol: [d3.symbolCircle, d3.symbolCross, d3.symbolSquare, d3.symbolCross, d3.symbolDiamond, symbolStar4, d3.symbolTriangle][i],
    size: [14, 14, 12, 16, 10, 14, 14][i],
    rotate: i === 1 ? 45 : 0
  }))
];

legendRows.forEach((row, i) => {
  const cy = legendY0 + i * legendStep;
  if (row.patch) {
    lg.append("rect")
      .attr("x", 586).attr("y", cy - 5.5)
      .attr("width", 35).attr("height", 11)
      .attr("fill", row.patch);
  }
  if (row.symbol) {
    lg.append("path")
      .attr("transform", `translate(${legendMarkX},${cy}) rotate(${row.rotate || 0})`)
      .attr("d", d3.symbol(row.symbol, row.size)())
      .attr("fill", "#333333");
  }
  lg.append("text")
    .attr("x", legendTextX)
    .attr("y", cy)
    .attr("dy", "0.35em")
    .attr("font-size", 17.5)
    .text(row.label);
});
</script>
</body>
</html>
